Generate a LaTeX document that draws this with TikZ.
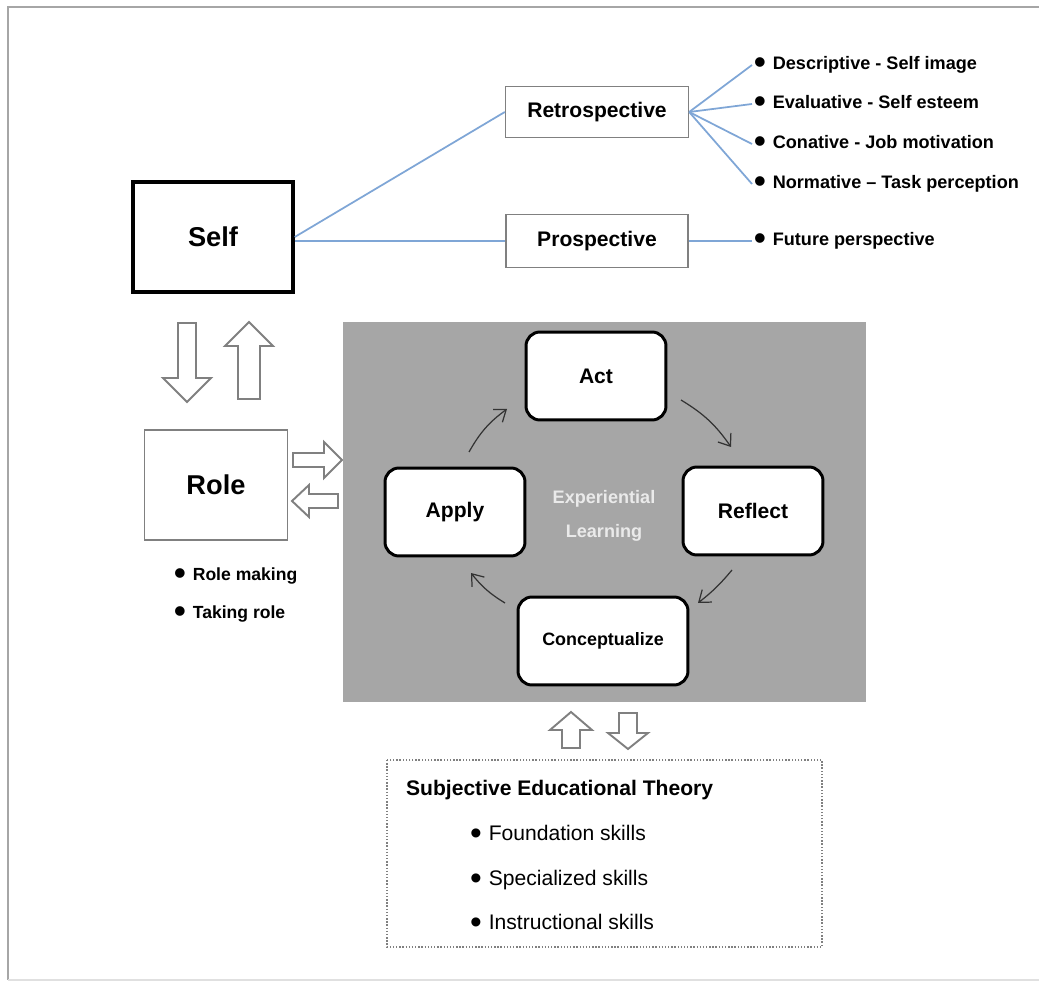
\documentclass[tikz,border=0pt]{standalone}
\usepackage{fontspec}
\setmainfont{Liberation Sans}
\usetikzlibrary{arrows.meta}
\definecolor{linkblue}{HTML}{7FA6D6}
\definecolor{boxgray}{HTML}{808080}
\definecolor{panelgray}{HTML}{A6A6A6}
\definecolor{lightlabel}{HTML}{EAEAEA}
\newcommand{\bul}{{\fontsize{19pt}{12pt}\selectfont\raisebox{-2.2pt}{•}}\hspace{4pt}}
\tikzset{
	selfbox/.style={draw=black,line width=2pt,fill=white,minimum width=3.2cm,minimum height=2.2cm,font=\fontsize{15.5pt}{18pt}\selectfont\bfseries},
	thinbox/.style={draw=boxgray,line width=0.8pt,fill=white,font=\fontsize{12pt}{14pt}\selectfont\bfseries},
	cyclebox/.style={draw=black,line width=1.7pt,fill=white,rounded corners=0.28cm,minimum width=2.8cm,minimum height=1.76cm,font=\fontsize{12pt}{14pt}\selectfont\bfseries},
	item/.style={anchor=west,inner sep=1pt,font=\fontsize{10.3pt}{12pt}\selectfont\bfseries},
	skill/.style={anchor=west,inner sep=1pt,font=\fontsize{12pt}{14pt}\selectfont},
	link/.style={draw=linkblue,line width=1pt},
	hollow/.style={draw=boxgray,line width=1.1pt,fill=white,line join=miter},
	cycarrow/.style={draw=black!80,line width=0.7pt,-{Straight Barb[length=6pt,width=9pt]}}
}
% block arrow: tail x, tail y, angle, length, half body, half head, head length
\newcommand{\hollowarr}[7]{\draw[hollow,shift={(#1,#2)},rotate=#3] (0,-#5) -- ({#4-#7},-#5) -- ({#4-#7},-#6) -- (#4,0) -- ({#4-#7},#6) -- ({#4-#7},#5) -- (0,#5) -- cycle;}
\begin{document}
\begin{tikzpicture}[x=0.02cm,y=-0.02cm]
	\useasboundingbox (0,0) rectangle (1039,983);
	\draw[boxgray!70,line width=1.2pt] (1039,7) -- (8,7) -- (8,980);
	\draw[black!12,line width=1pt] (8,980) -- (1039,980);
	% self side
	\node[selfbox] at (213,237) (self) {Self};
	\node[thinbox,minimum width=3.66cm,minimum height=1.02cm] at (597,112) (retro) {Retrospective};
	\node[thinbox,minimum width=3.64cm,minimum height=1.06cm] at (597,241) (prosp) {Prospective};
	\node[item] at (752,65) (desc) {\bul Descriptive - Self image};
	\node[item] at (752,104) (eval) {\bul Evaluative - Self esteem};
	\node[item] at (752,144) (conat) {\bul Conative - Job motivation};
	\node[item] at (752,184) (norm) {\bul Normative – Task perception};
	\node[item] at (752,241) (future) {\bul Future perspective};
	\draw[link] (self.east) -- (retro.west);
	\draw[link] (self.east |- prosp.west) -- (prosp.west);
	\draw[link] (retro.east) -- (desc.west);
	\draw[link] (retro.east) -- (eval.west);
	\draw[link] (retro.east) -- (conat.west);
	\draw[link] (retro.east) -- (norm.west);
	\draw[link] (prosp.east) -- (future.west);
	% role
	\hollowarr{187}{323}{-90}{79}{9}{24}{24}
	\hollowarr{249}{399}{90}{77}{11}{24}{24}
	\node[thinbox,minimum width=2.86cm,minimum height=2.2cm,font=\fontsize{15.5pt}{18pt}\selectfont\bfseries] at (216,485) (role) {Role};
	\node[item,font=\fontsize{10pt}{12pt}\selectfont\bfseries] at (172,576) (rmake) {\bul Role making};
	\node[item,font=\fontsize{10pt}{12pt}\selectfont\bfseries] at (172,614) (rtake) {\bul Taking role};
	\hollowarr{293}{460}{0}{49}{7}{18}{18}
	\hollowarr{338}{501}{180}{46}{7}{16}{17}
	% experiential learning
	\fill[panelgray] (343,322) rectangle (866,702);
	\node[cyclebox] at (596,376) (act) {Act};
	\node[cyclebox] at (753,511) (reflect) {Reflect};
	\node[cyclebox,minimum width=3.4cm,font=\fontsize{10.2pt}{12pt}\selectfont\bfseries] at (603,641) (concept) {Conceptualize};
	\node[cyclebox] at (455,512) (apply) {Apply};
	\node[text=lightlabel,align=center,font=\fontsize{10.3pt}{19pt}\selectfont\bfseries] at (604,516) (exp) {Experiential\\Learning};
	\coordinate (a1) at (469,452);
	\coordinate (a2) at (507,409);
	\coordinate (b1) at (681,400);
	\coordinate (b2) at (731,447);
	\coordinate (c1) at (732,570);
	\coordinate (c2) at (698,603);
	\coordinate (d1) at (505,603);
	\coordinate (d2) at (471,573);
	\draw[cycarrow] (a1) to[bend left=12] (a2);
	\draw[cycarrow] (b1) to[bend left=12] (b2);
	\draw[cycarrow] (c1) to[bend left=6] (c2);
	\draw[cycarrow] (d1) to[bend left=10] (d2);
	% theory
	\hollowarr{571}{748}{90}{36}{9}{21}{18}
	\hollowarr{628}{713}{-90}{36}{9}{20}{16}
	\draw[boxgray,densely dotted,line width=0.8pt] (387,760) rectangle (822,947);
	\node[anchor=west,inner sep=1pt,font=\fontsize{12pt}{14pt}\selectfont\bfseries] at (404,790) (theory) {Subjective Educational Theory};
	\node[skill] at (468,835) (found) {\bul Foundation skills};
	\node[skill] at (468,880) (spec) {\bul Specialized skills};
	\node[skill] at (468,924) (instr) {\bul Instructional skills};
\end{tikzpicture}
\end{document}
